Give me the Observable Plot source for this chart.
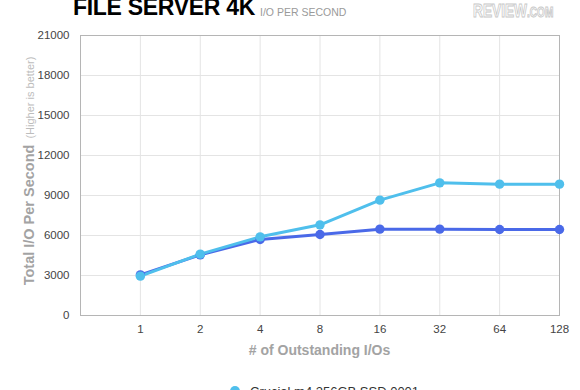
<!DOCTYPE html>
<html>
<head>
<meta charset="utf-8">
<script src="https://cdn.jsdelivr.net/npm/d3@7"></script>
<script src="https://cdn.jsdelivr.net/npm/@observablehq/plot@0.6"></script>
<style>
  html, body { margin: 0; padding: 0; background: #fff; }
  body { width: 580px; height: 390px; overflow: hidden; font-family: "Liberation Sans", Arial, sans-serif; }
  #wrap { position: relative; width: 580px; }
  #title { position: absolute; left: 73px; top: -6px; font-weight: bold; font-size: 23px; letter-spacing: -0.3px; color: #000; white-space: nowrap; }
  #subtitle { position: absolute; left: 260px; top: 6px; font-size: 10.5px; color: #9a9a9a; white-space: nowrap; }
  #logo { position: absolute; left: 473px; top: 0px; font-weight: bold; color: #fff; white-space: nowrap; transform: scaleX(0.72); transform-origin: left top; -webkit-text-stroke: 1px #c8c8c8; }
  #legend { padding-top: 11px; font-size: 13px; color: #333; }
  .item { display: flex; align-items: center; margin-left: 230px; height: 20px; }
  .sw { width: 10px; height: 10px; border-radius: 50%; margin-right: 10px; }
</style>
</head>
<body>
<div id="wrap">
  <div id="chart"></div>
  <div id="title">FILE SERVER 4K</div>
  <div id="subtitle">I/O PER SECOND</div>
  <div id="logo"><span style="font-size:19px">REVIEW</span><span style="font-size:14px">.COM</span></div>
  <div id="legend"></div>
</div>
<script>
const outstandingIOs = [1, 2, 4, 8, 16, 32, 64, 128];
const seriesNames = ["Crucial m4 256GB SSD 0009", "Crucial m4 256GB SSD 0001"];
const seriesColors = ["#4a69e8", "#4fbfec"];
const m4Fw0009 = [3050, 4550, 5700, 6075, 6475, 6475, 6450, 6450];
const m4Fw0001 = [2950, 4600, 5900, 6800, 8650, 9950, 9850, 9850];
const yTicks = [0, 3000, 6000, 9000, 12000, 15000, 18000, 21000];

const rows = [];
outstandingIOs.forEach((io, i) => rows.push({io, v: m4Fw0009[i], series: seriesNames[0]}));
outstandingIOs.forEach((io, i) => rows.push({io, v: m4Fw0001[i], series: seriesNames[1]}));

const chart = Plot.plot({
  width: 580,
  height: 370,
  marginTop: 35,
  marginBottom: 55,
  marginLeft: 80,
  marginRight: 21,
  style: { fontFamily: "'Liberation Sans', Arial, sans-serif", fontSize: "11.5px", background: "white", overflow: "visible" },
  x: { type: "log", base: 2, domain: [0.5, 128], label: null },
  y: { domain: [0, 21000], label: null },
  color: { domain: seriesNames, range: seriesColors },
  marks: [
    Plot.gridY(yTicks, { stroke: "#e4e4e4", strokeOpacity: 1 }),
    Plot.gridX(outstandingIOs, { stroke: "#e4e4e4", strokeOpacity: 1 }),
    Plot.frame({ stroke: "#b5b5b5" }),
    Plot.axisX(outstandingIOs, { tickSize: 0, tickPadding: 9, fill: "#444", tickFormat: d => String(d), label: null }),
    Plot.axisY(yTicks, { tickSize: 0, tickPadding: 11, fill: "#444", tickFormat: d => String(d), label: null }),
    Plot.line(rows, { x: "io", y: "v", z: "series", stroke: "series", strokeWidth: 3 }),
    Plot.dot(rows, { x: "io", y: "v", fill: "series", r: 4.7 })
  ]
});
document.getElementById("chart").appendChild(chart);

const svg = d3.select(chart);
const yl = svg.append("text")
  .attr("transform", "translate(33.5,171) rotate(-90)")
  .attr("text-anchor", "middle")
  .attr("font-family", "'Liberation Sans', Arial, sans-serif");
yl.append("tspan").attr("font-size", 14.5).attr("font-weight", "bold").attr("fill", "#a3a3a3").text("Total I/O Per Second");
yl.append("tspan").attr("font-size", 11).attr("fill", "#bdbdbd").attr("dx", 6).text("(Higher is better)");

svg.append("text")
  .attr("x", 319.5).attr("y", 355)
  .attr("text-anchor", "middle")
  .attr("font-family", "'Liberation Sans', Arial, sans-serif")
  .attr("font-size", 14).attr("font-weight", "bold").attr("fill", "#a3a3a3")
  .text("# of Outstanding I/Os");

const legend = document.getElementById("legend");
[1, 0].forEach(i => {
  const d = document.createElement("div");
  d.className = "item";
  d.innerHTML = `<span class="sw" style="background:${seriesColors[i]}"></span><span>${seriesNames[i]}</span>`;
  legend.appendChild(d);
});
</script>
</body>
</html>
